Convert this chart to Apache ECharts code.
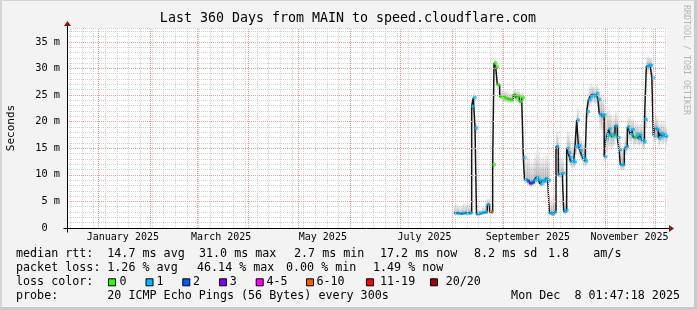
<!DOCTYPE html>
<html><head><meta charset="utf-8">
<script src="https://cdn.jsdelivr.net/npm/echarts@6/dist/echarts.min.js"></script>
<style>html,body{margin:0;padding:0;background:#f3f3f3;overflow:hidden}#c{width:697px;height:310px}</style>
</head><body><div id="c"></div>
<script>
// ---------------- DATA ----------------
const startTime = '2024-12-13T01:47:18Z';
const endTime = '2025-12-08T01:47:18Z';
const titleText = 'Last 360 Days from MAIN to speed.cloudflare.com';
const yAxisName = 'Seconds';
const yMax = 37.6;
const yMajorStep = 5;
// days since startTime at which each median step begins
const dayOffsets = [232.2,234.6,237.0,239.4,241.5,242.8,243.8,244.8,245.7,247.2,249.0,250.8,252.2,253.6,
  255.4,256.2,257.2,258.2,259.6,261.0,262.5,264.0,265.8,267.8,269.1,270.3,271.4,272.8,
  273.8,274.5,276.0,277.5,278.8,280.2,281.4,282.8,283.8,284.8,285.9,287.0,288.4,
  289.4,290.7,292.0,293.4,294.8,296.0,297.2,298.0,299.0,
  299.8,300.6,301.5,302.1,303.0,304.0,304.8,305.8,306.8,307.7,308.8,309.8,310.8,
  311.8,312.8,313.8,315.0,316.2,317.4,318.5,319.4,320.7,321.8,
  322.3,323.1,324.0,324.9,325.9,326.9,327.8,328.8,330.2,
  331.2,332.0,333.1,334.4,335.3,336.2,337.1,337.9,338.8,339.8,340.8,341.8,342.8,343.8,344.8,345.8,
  346.5,347.6,348.8,349.9,350.9,351.8,352.5,353.7,354.8,355.8,356.8,357.8,358.8];
const lastDay = 359.8;
// median RTT (ms)
const medianMs = [2.8,2.7,2.8,2.8,2.8,22.9,24.5,18.8,2.6,2.8,2.9,3.0,4.4,3.0,
  11.9,31.0,30.3,26.9,24.7,24.6,24.4,24.2,24.1,25.1,24.5,24.8,23.8,24.5,
  13.2,9.1,8.8,8.4,8.6,9.0,9.5,9.0,8.3,8.9,8.8,9.3,9.0,
  2.8,2.6,3.0,15.3,10.0,10.2,10.3,3.1,3.3,
  15.0,14.2,13.3,12.5,12.8,12.4,15.3,20.3,15.5,14.6,13.6,13.0,12.6,
  21.9,24.1,24.7,25.1,24.8,25.3,24.2,21.4,21.0,21.3,
  13.4,16.8,17.4,18.6,17.6,17.2,17.5,19.2,17.0,
  14.7,11.9,11.9,15.0,15.3,19.0,18.4,17.6,18.5,17.0,17.3,17.6,16.8,17.5,16.5,16.2,
  20.4,30.4,30.6,30.6,28.2,17.3,18.8,18.5,16.9,17.8,17.3,17.6,17.2];
// smoke (spread of the 20 pings) upper / lower edge (ms)
const smokeHighMs = [4.6,4.2,4.8,4.7,4.5,24.2,25.6,20.0,3.4,3.5,4.2,5.6,5.8,3.8,
  13.0,31.8,31.0,27.6,26.0,25.8,26.2,25.6,25.4,26.3,26.0,26.2,25.4,25.8,
  14.5,13.6,14.2,12.8,13.0,14.4,15.2,14.6,13.0,13.8,13.4,14.2,13.6,
  5.2,5.6,6.4,18.6,13.6,13.8,13.2,5.4,6.0,
  19.0,18.2,17.0,15.6,16.0,15.8,18.0,23.0,18.6,17.2,16.6,16.0,15.6,
  24.2,26.8,27.4,27.0,26.6,27.2,26.4,25.8,25.2,25.0,
  22.0,23.0,22.4,22.6,21.6,21.0,21.4,22.0,20.6,
  17.0,15.4,15.2,17.6,18.6,21.2,21.0,20.4,21.0,20.0,19.8,20.2,19.6,20.0,19.4,19.0,
  22.2,32.6,32.4,32.0,30.0,20.6,21.2,21.0,19.8,20.4,20.0,20.2,19.6];
const smokeLowMs = [2.4,2.4,2.4,2.4,2.4,22.0,23.6,17.6,2.3,2.4,2.5,2.6,3.6,2.6,
  11.0,30.0,29.6,26.0,24.0,23.8,23.6,23.4,23.4,24.2,23.6,24.0,23.0,23.8,
  12.4,8.4,8.0,7.6,7.8,8.2,8.6,8.2,7.6,8.0,8.0,8.4,8.2,
  2.4,2.3,2.5,14.0,9.4,9.6,9.6,2.6,2.8,
  13.6,12.6,11.8,11.2,11.4,11.2,13.6,19.0,13.8,12.8,12.0,11.6,11.4,
  20.6,22.6,23.2,23.6,23.2,23.6,22.4,18.4,18.0,18.2,
  12.2,14.0,14.8,15.2,14.6,15.2,15.4,16.6,15.0,
  12.6,10.8,10.8,13.6,14.0,16.6,16.2,15.8,16.4,15.2,15.8,15.8,15.2,15.8,14.8,14.6,
  18.6,29.0,29.4,29.4,26.8,15.6,16.6,16.4,15.2,16.2,15.6,16.0,15.4];
// loss class index into lossNames
const lossClass = [1,1,1,1,1,1,1,1,1,1,1,1,1,5,
  0,0,0,0,0,0,0,0,0,0,0,0,0,0,
  1,1,2,3,2,1,1,1,1,1,1,1,1,
  1,1,1,1,1,1,1,1,1,
  1,1,1,1,1,1,1,1,1,1,1,1,1,
  1,1,1,1,1,1,1,1,1,1,
  1,1,1,1,1,0,1,1,1,
  1,1,1,1,1,1,1,1,1,1,0,1,1,1,1,1,
  1,1,1,1,1,1,1,1,1,1,1,1,1];
const lossNames = ['0','1','2','3','4-5','6-10','11-19','20/20'];
const lossColors = ['#26ff00','#00b8ff','#0059ff','#7e00ff','#ff00ff','#ff5500','#ff0000','#a10000'];
// x-axis labels (rrdtool centres them in the month)
const monthLabels = ['January 2025','March 2025','May 2025','July 2025','September 2025','November 2025'];
const monthLabelDates = ['2025-01-16','2025-03-16','2025-05-16','2025-07-16','2025-09-16','2025-11-16'];
const monthStarts = ['2025-01-01','2025-02-01','2025-03-01','2025-04-01','2025-05-01','2025-06-01',
  '2025-07-01','2025-08-01','2025-09-01','2025-10-01','2025-11-01','2025-12-01'];
// legend texts
const rttLegend = ['median rtt:','14.7 ms avg','31.0 ms max','2.7 ms min','17.2 ms now','8.2 ms sd','1.8','am/s'];
const lossLegend = ['packet loss:','1.26 % avg','46.14 % max','0.00 % min','1.49 % now'];
const colorLegendLabel = 'loss color:';
const probeLegend = ['probe:','20 ICMP Echo Pings (56 Bytes) every 300s'];
const stampText = 'Mon Dec  8 01:47:18 2025';
const watermark = 'RRDTOOL / TOBI OETIKER';

// ---------------- LAYOUT / STYLE ----------------
const rttX = [16,107.3,199,294,380,474,548,593.3];
const lossX = [16,107.3,197,286,373];
const swatchX = [108,145.5,182.3,219,255.7,306,366,430];
const swatchTextX = [119.5,156.5,193,229.8,266.5,316.5,380,445.7];
const rowY = [254,268.3,282.3,296];
const MONO = 'DejaVu Sans Mono';
const DAY = 86400000;
const toTs = s => Date.parse(s.length === 10 ? s + 'T00:00:00Z' : s);
const t0 = toTs(startTime), t1 = toTs(endTime);
const tAt = d => t0 + d * DAY;

const chart = echarts.init(document.getElementById('c'), null, {renderer: 'canvas'});

// grid lines
const gridLines = [];
let firstSunday = Date.UTC(2024, 11, 15);
for (let t = firstSunday; t < t1; t += 7 * DAY) {
  gridLines.push({xAxis: t, lineStyle: {color: '#d2d2d2', type: [1, 1], width: 1}});
}
monthStarts.forEach(s => gridLines.push({xAxis: toTs(s), lineStyle: {color: '#eb9a9a', type: [1, 1], width: 1}}));
for (let v = yMajorStep; v < yMax; v += yMajorStep) {
  gridLines.push({yAxis: v, lineStyle: {color: '#eb9a9a', type: [1, 1], width: 1}});
}

const smokeData = dayOffsets.map((d, i) => [tAt(d), tAt(i + 1 < dayOffsets.length ? dayOffsets[i + 1] : lastDay), smokeLowMs[i], smokeHighMs[i], medianMs[i]]);
const lineData = dayOffsets.map((d, i) => [tAt(d), medianMs[i]]);
lineData.push([tAt(lastDay), medianMs[medianMs.length - 1]]);
const dotData = dayOffsets.map((d, i) => [tAt(d), medianMs[i], lossClass[i]]);

chart.setOption({
  animation: false,
  backgroundColor: '#f3f3f3',
  grid: {left: 67, top: 28, width: 600, height: 200, show: true, backgroundColor: '#ffffff', borderWidth: 0,
    containLabel: false, outerBoundsMode: 'none'},
  xAxis: {type: 'time', min: t0, max: t1, axisLabel: {show: false}, axisTick: {show: false},
    axisLine: {show: false}, splitLine: {show: false}},
  yAxis: {type: 'value', min: 0, max: yMax, interval: 1,
    axisLine: {show: false}, axisTick: {show: false},
    axisLabel: {margin: 7, fontFamily: MONO, fontSize: 10.3, color: '#000',
      formatter: v => v === 0 ? '0  ' : (Math.abs(v % yMajorStep) < 1e-9 ? v + ' m' : '')},
    splitLine: {show: true, lineStyle: {color: '#d2d2d2', type: [1, 1], width: 1}}},
  series: [
    {type: 'line', data: [], z: 1, silent: true,
      markLine: {silent: true, symbol: ['none', 'none'], label: {show: false}, animation: false, data: gridLines}},
    {type: 'custom', z: 2, silent: true, data: smokeData, encode: {x: [0, 1], y: [2, 3]},
      renderItem: function (params, api) {
        const a = api.coord([api.value(0), api.value(3)]);
        const b = api.coord([api.value(1), api.value(2)]);
        const m = api.coord([api.value(0), api.value(4)]);
        const h = Math.max(b[1] - a[1], 1);
        let f = (m[1] - a[1]) / h; f = Math.min(Math.max(f, 0.001), 0.999);
        return {type: 'rect', shape: {x: a[0], y: a[1], width: b[0] - a[0] + 0.4, height: h},
          style: {fill: {type: 'linear', x: 0, y: 0, x2: 0, y2: 1, colorStops: [
            {offset: 0, color: 'rgba(0,0,0,0.02)'}, {offset: f, color: 'rgba(0,0,0,0.24)'},
            {offset: 1, color: 'rgba(0,0,0,0.06)'}]}}};
      }},
    {type: 'line', z: 3, silent: true, step: 'end', data: lineData, showSymbol: false,
      lineStyle: {color: '#141414', width: 1.5}},
    {type: 'scatter', z: 4, silent: true, data: dotData, symbol: 'rect', symbolSize: [3.5, 3], symbolOffset: [1.5, 0],
      itemStyle: {color: p => lossColors[p.value[2]]}}
  ]
});

// axes, labels, legend as graphics
const P = (t, v) => chart.convertToPixel({gridIndex: 0}, [t, v]);
const o = P(t0, 0), xe = P(t1, 0), ye = P(t0, yMax), ymid = P(t0, yMax / 2);
const ax = Math.round(o[0]) + 0.5, ay = Math.round(o[1]) + 0.5;
const g = [];
// frame
g.push({type: 'rect', shape: {x: 0, y: 0, width: 697, height: 1}, style: {fill: '#d6d6d6'}, silent: true});
g.push({type: 'rect', shape: {x: 0, y: 0, width: 2, height: 310}, style: {fill: '#d6d6d6'}, silent: true});
g.push({type: 'rect', shape: {x: 0, y: 307, width: 697, height: 3}, style: {fill: '#cacaca'}, silent: true});
g.push({type: 'rect', shape: {x: 694, y: 0, width: 3, height: 310}, style: {fill: '#cacaca'}, silent: true});
// axis lines + arrows
g.push({type: 'line', shape: {x1: ax - 4, y1: ay, x2: xe[0] + 2, y2: ay}, style: {stroke: '#000', lineWidth: 1}, z: 10});
g.push({type: 'line', shape: {x1: ax, y1: ay + 4, x2: ax, y2: ye[1] - 2}, style: {stroke: '#000', lineWidth: 1}, z: 10});
g.push({type: 'polygon', shape: {points: [[xe[0] + 7, ay], [xe[0] + 2, ay - 3.5], [xe[0] + 2, ay + 3.5]]}, style: {fill: '#8b1414'}, z: 10});
g.push({type: 'polygon', shape: {points: [[ax, ye[1] - 7], [ax - 3.5, ye[1] - 2], [ax + 3.5, ye[1] - 2]]}, style: {fill: '#8b1414'}, z: 10});
// y axis name
g.push({type: 'text', x: 11.5, y: ymid[1], rotation: Math.PI / 2,
  style: {text: yAxisName, x: 0, y: 0, align: 'center', verticalAlign: 'middle', font: '11px "' + MONO + '"', fill: '#000'}});
// title
g.push({type: 'text', style: {text: titleText, x: 348, y: 19, align: 'center', verticalAlign: 'middle', font: '13.3px "' + MONO + '"', fill: '#000'}});
// month labels
monthLabels.forEach((s, i) => {
  const p = P(toTs(monthLabelDates[i]), 0);
  g.push({type: 'text', style: {text: s, x: p[0] - 0.7, y: 237.5, align: 'center', verticalAlign: 'middle', font: '10px "' + MONO + '"', fill: '#000'}});
});
const legFont = '11.7px "' + MONO + '"';
const txt = (s, x, y, al) => g.push({type: 'text', style: {text: s, x: x, y: y, align: al || 'left', verticalAlign: 'middle', font: legFont, fill: '#000'}});
rttLegend.forEach((s, i) => txt(s, rttX[i], rowY[0]));
lossLegend.forEach((s, i) => txt(s, lossX[i], rowY[1]));
txt(colorLegendLabel, 16, rowY[2]);
lossNames.forEach((s, i) => {
  g.push({type: 'rect', shape: {x: swatchX[i] + 0.5, y: rowY[2] - 3.5, width: 7, height: 7}, style: {fill: lossColors[i], stroke: '#000', lineWidth: 1}});
  txt(s, swatchTextX[i], rowY[2]);
});
txt(probeLegend[0], 16, rowY[3]);
txt(probeLegend[1], 107.3, rowY[3]);
txt(stampText, 680, rowY[3], 'right');
// watermark
g.push({type: 'text', x: 686.5, y: 5, rotation: -Math.PI / 2,
  style: {text: watermark, x: 0, y: 0, align: 'left', verticalAlign: 'middle', font: '8.3px "' + MONO + '"', fill: '#b4b4b4'}});
chart.setOption({graphic: g});
</script>
</body></html>
